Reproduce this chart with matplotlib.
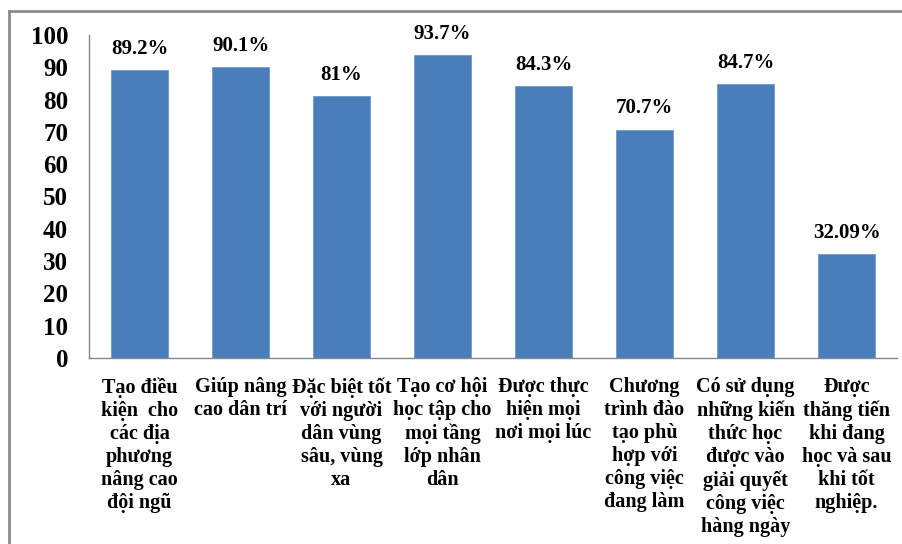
import matplotlib
matplotlib.use("Agg")
import matplotlib.pyplot as plt
from matplotlib.lines import Line2D

# survey results, percent of respondents agreeing with each statement
categories = [
    "Tạo điều\nkiện  cho\ncác địa\nphương\nnâng cao\nđội ngũ",
    "Giúp nâng\ncao dân trí",
    "Đặc biệt tốt\nvới người\ndân vùng\nsâu, vùng\nxa",
    "Tạo cơ hội\nhọc tập cho\nmọi tầng\nlớp nhân\ndân",
    "Được thực\nhiện mọi\nnơi mọi lúc",
    "Chương\ntrình đào\ntạo phù\nhợp với\ncông việc\nđang làm",
    "Có sử dụng\nnhững kiến\nthức học\nđược vào\ngiải quyết\ncông việc\nhàng ngày",
    "Được\nthăng tiến\nkhi đang\nhọc và sau\nkhi tốt\nnghiệp.",
]
values = [89.2, 90.1, 81, 93.7, 84.3, 70.7, 84.7, 32.09]
value_labels = ["89.2%", "90.1%", "81%", "93.7%", "84.3%", "70.7%", "84.7%", "32.09%"]
yticks = [0, 10, 20, 30, 40, 50, 60, 70, 80, 90, 100]

plt.rcParams["font.family"] = ["Liberation Serif", "DejaVu Serif"]
plt.rcParams["font.weight"] = "bold"

fig = plt.figure(figsize=(9.03, 5.44), dpi=100)
ax = fig.add_axes([0.0986, 0.342, 0.8948, 0.5937])

x = list(range(len(values)))
bars = ax.bar(x, values, width=0.56, color="#4a7ebb", edgecolor="#6f9ad0", linewidth=0.6)

for rect, lab in zip(bars, value_labels):
    ax.annotate(lab, (rect.get_x() + rect.get_width() / 2, rect.get_height()),
                xytext=(0, 8), textcoords="offset points", ha="center", va="bottom",
                fontsize=15, fontweight="bold")

ax.set_xlim(-0.5, len(values) - 0.5)
ax.set_ylim(0, 100)
ax.set_yticks(yticks)
ax.set_yticklabels([str(t) for t in yticks], fontsize=18, fontweight="bold")
ax.tick_params(axis="y", length=0, pad=15)
ax.set_xticks(x)
ax.set_xticklabels(categories, fontsize=14.5, fontweight="bold", linespacing=1.2, va="top")
ax.tick_params(axis="x", length=0, pad=14)

for side in ("top", "right"):
    ax.spines[side].set_visible(False)
for side in ("left", "bottom"):
    ax.spines[side].set_color("#868686")
    ax.spines[side].set_linewidth(1)

# outer chart border (only the left and top edges fall inside the image)
fig.add_artist(Line2D([9 / 903, 9 / 903], [0, 1 - 11 / 544], transform=fig.transFigure,
                      color="#8c8c8c", linewidth=2))
fig.add_artist(Line2D([9 / 903, 1], [1 - 11 / 544, 1 - 11 / 544], transform=fig.transFigure,
                      color="#8c8c8c", linewidth=2))

fig.savefig("out.png", dpi=100)
